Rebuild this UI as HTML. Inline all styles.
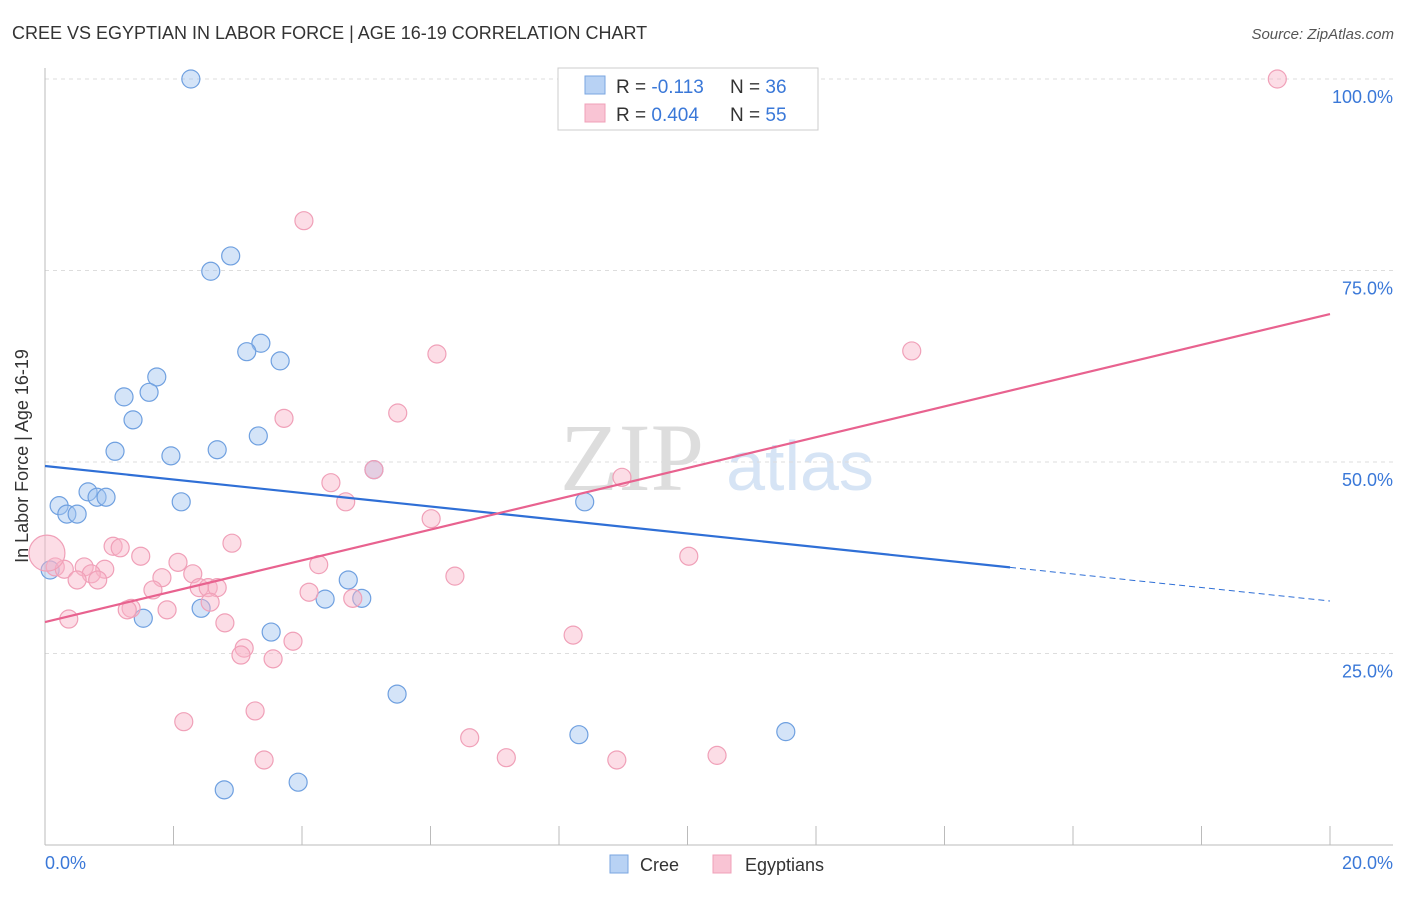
<!DOCTYPE html>
<html><head><meta charset="utf-8"><style>
body{margin:0;background:#fff;font-family:"Liberation Sans",sans-serif}
svg text{font-family:"Liberation Sans",sans-serif}
</style></head><body>
<svg id="chart" width="1406" height="892">
<text x="12" y="39" font-size="18" fill="#333">CREE VS EGYPTIAN IN LABOR FORCE | AGE 16-19 CORRELATION CHART</text>
<text x="1394" y="39" font-size="15" fill="#555" text-anchor="end" font-style="italic">Source: ZipAtlas.com</text>
<text x="632" y="490" font-size="96" fill="#ddd" text-anchor="middle" font-family="Liberation Serif" style="font-family:'Liberation Serif',serif">ZIP</text>
<text x="800" y="490" font-size="70" fill="#d6e4f5" text-anchor="middle">atlas</text>
<g id="grid"></g><g id="axes"></g><g id="pts"></g><g id="lines"></g>
<text x="28" y="456" font-size="18" fill="#333" text-anchor="middle" transform="rotate(-90 28 456)">In Labor Force | Age 16-19</text>
<text x="45" y="869" font-size="18" fill="#3a78d8">0.0%</text>
<text x="1393" y="869" font-size="18" fill="#3a78d8" text-anchor="end">20.0%</text>
<g>
<rect x="558" y="68" width="260" height="62" fill="#fff" stroke="#ccc"/>
<rect x="585" y="76" width="20" height="18" fill="#b8d2f4" stroke="#7aa6e0"/>
<rect x="585" y="104" width="20" height="18" fill="#f9c4d4" stroke="#f0a0b8"/>
<text x="616" y="93" font-size="19" fill="#333">R = <tspan fill="#3a78d8">-0.113</tspan></text>
<text x="730" y="93" font-size="19" fill="#333">N = <tspan fill="#3a78d8">36</tspan></text>
<text x="616" y="121" font-size="19" fill="#333">R = <tspan fill="#3a78d8">0.404</tspan></text>
<text x="730" y="121" font-size="19" fill="#333">N = <tspan fill="#3a78d8">55</tspan></text>
</g>
<g>
<rect x="610" y="855" width="18" height="18" fill="#b8d2f4" stroke="#7aa6e0"/>
<text x="640" y="871" font-size="18" fill="#333">Cree</text>
<rect x="713" y="855" width="18" height="18" fill="#f9c4d4" stroke="#f0a0b8"/>
<text x="745" y="871" font-size="18" fill="#333">Egyptians</text>
</g>
</svg>
<script>
const yTicks=[25,50,75,100];
const creeX=[2.27,2.89,2.58,3.36,3.14,3.66,1.74,1.23,1.62,1.37,3.32,1.09,1.96,2.68,0.22,0.67,0.81,0.95,0.34,0.50,2.12,5.12,8.40,4.72,4.36,4.93,1.53,2.43,3.52,5.48,8.31,11.53,2.79,3.94,0.08,10.58];
const creeY=[100,76.9,74.9,65.5,64.4,63.2,61.1,58.5,59.1,55.5,53.4,51.4,50.8,51.6,44.3,46.1,45.4,45.4,43.2,43.2,44.8,49.0,44.8,34.6,32.1,32.2,29.6,30.9,27.8,19.7,14.4,14.8,7.2,8.2,35.9,100];
const egX=[19.18,4.03,6.10,13.49,5.49,3.72,5.12,8.98,4.45,4.68,6.01,2.91,1.06,1.17,1.49,2.07,10.02,4.26,0.61,0.16,0.30,0.93,0.72,1.82,0.50,0.82,2.30,6.38,1.68,2.40,2.54,2.68,4.11,4.79,2.57,1.34,1.28,1.90,0.37,2.80,8.22,3.86,3.10,3.05,3.55,3.27,2.16,6.61,7.18,8.90,10.46,3.41,0.03];
const egY=[100,81.5,64.1,64.5,56.4,55.7,49.0,48.0,47.3,44.8,42.6,39.4,39.0,38.8,37.7,36.9,37.7,36.6,36.3,36.3,36.0,36.0,35.4,34.9,34.6,34.6,35.4,35.1,33.3,33.6,33.6,33.6,33.0,32.2,31.7,30.9,30.7,30.7,29.5,29.0,27.4,26.6,25.7,24.8,24.3,17.5,16.1,14.0,11.4,11.1,11.7,11.1,38.1];
const egR=egX.map((v,i)=>i===egX.length-1?18:9);
const creeTrend=[49.48,31.85];
const egTrend=[29.11,69.32];
const creeSolidEnd=15.02;
const X=v=>45+v*64.25, Y=v=>845-v*7.66;
const NS='http://www.w3.org/2000/svg';
function mk(p,tag,a){const e=document.createElementNS(NS,tag);for(const k in a)e.setAttribute(k,a[k]);p.appendChild(e);return e;}
const grid=document.getElementById('grid'),axes=document.getElementById('axes'),pts=document.getElementById('pts'),lines=document.getElementById('lines');
yTicks.forEach(t=>{
 const l=mk(grid,'line',{x1:45,x2:1393,y1:Y(t),y2:Y(t),stroke:'#ddd','stroke-dasharray':'4,4'});
 
 
 const tx=mk(grid,'text',{x:1393,y:Y(t)+24,'font-size':18,fill:'#3a78d8','text-anchor':'end'});
 tx.textContent=t.toFixed(1)+'%';
 
 
});
mk(axes,'line',{x1:45,x2:45,y1:68,y2:845,stroke:'#bbb'});
mk(axes,'line',{x1:45,x2:1393,y1:845,y2:845,stroke:'#bbb'});
for(let i=0;i<=10;i++){const t=mk(axes,'line',{x1:X(i*2),x2:X(i*2),y1:826,y2:845,stroke:'#bbb'});
 
 }
creeX.forEach((v,i)=>{const c=mk(pts,'circle',{cx:X(v),cy:Y(creeY[i]),r:9,fill:'rgba(160,196,240,0.45)',stroke:'#6fa0e0','stroke-width':1.2});
 
 });
egX.forEach((v,i)=>{const c=mk(pts,'circle',{cx:X(v),cy:Y(egY[i]),r:egR[i],fill:'rgba(248,180,200,0.45)',stroke:'#f0a0b8','stroke-width':1.2});
 
 });
const cy=x=>creeTrend[0]+(creeTrend[1]-creeTrend[0])*x/20;
const l1=mk(lines,'line',{x1:X(0),y1:Y(cy(0)),x2:X(creeSolidEnd),y2:Y(cy(creeSolidEnd)),stroke:'#2f6fd6','stroke-width':2.2});


const l2=mk(lines,'line',{x1:X(creeSolidEnd),y1:Y(cy(creeSolidEnd)),x2:X(20),y2:Y(cy(20)),stroke:'#2f6fd6','stroke-width':1,'stroke-dasharray':'6,4'});


const l3=mk(lines,'line',{x1:X(0),y1:Y(egTrend[0]),x2:X(20),y2:Y(egTrend[1]),stroke:'#e8628f','stroke-width':2.2});


</script>
</body></html>
